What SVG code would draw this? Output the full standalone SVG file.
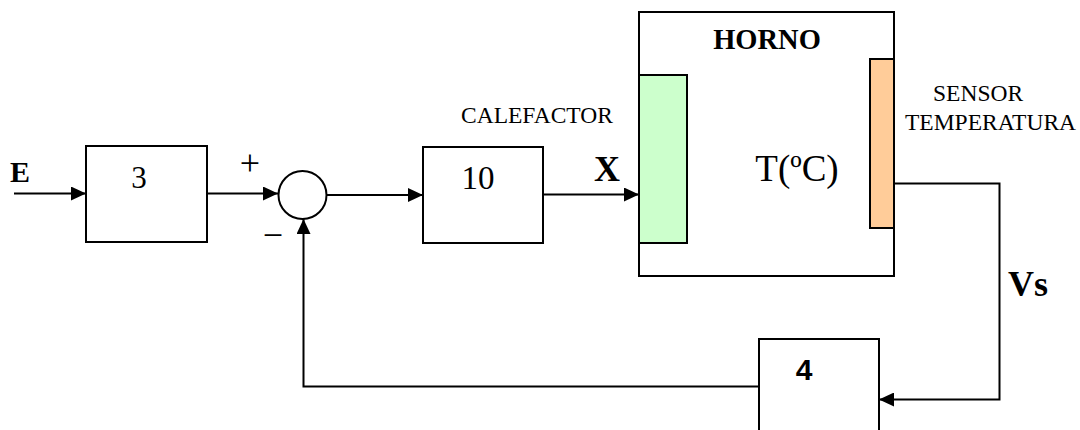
<svg xmlns="http://www.w3.org/2000/svg" width="1080" height="430" viewBox="0 0 1080 430">
<style>
.box{fill:#fff;stroke:#000;stroke-width:2}
.ln{fill:none;stroke:#000;stroke-width:2}
.ser{font-family:"Liberation Serif","Times New Roman",serif;fill:#000}
.sans{font-family:"Liberation Sans",Arial,sans-serif;fill:#000}
</style>
<defs>
<marker id="ah" markerUnits="userSpaceOnUse" markerWidth="15" markerHeight="14" refX="15" refY="7" orient="auto">
<path d="M0,0 L15,7 L0,14 z" fill="#000"/>
</marker>
</defs>
<rect width="1080" height="430" fill="#fff"/>

<g id="connectors">
<line class="ln" x1="14" y1="193.5" x2="86" y2="193.5" marker-end="url(#ah)"/>
<line class="ln" x1="207" y1="193.5" x2="278" y2="193.5" marker-end="url(#ah)"/>
<line class="ln" x1="326" y1="195" x2="423" y2="195" marker-end="url(#ah)"/>
<line class="ln" x1="543" y1="194.5" x2="639" y2="194.5" marker-end="url(#ah)"/>
<polyline class="ln" points="894,183.5 999.5,183.5 999.5,399.5 879,399.5" marker-end="url(#ah)"/>
<polyline class="ln" points="759,386.5 303.5,386.5 303.5,219" marker-end="url(#ah)"/>
</g>

<g id="input-E">
<text class="ser" x="10" y="182" font-size="30" font-weight="bold">E</text>
</g>

<g id="block-3">
<rect class="box" x="86" y="146" width="121" height="96"/>
<text class="ser" x="139" y="188" font-size="31" text-anchor="middle">3</text>
</g>

<g id="sum">
<circle cx="302.5" cy="195" r="24" fill="#fff" stroke="#000" stroke-width="2"/>
<text class="ser" x="250" y="175" font-size="36" text-anchor="middle">+</text>
<text class="ser" x="273" y="247" font-size="36" text-anchor="middle">−</text>
</g>

<g id="block-10">
<rect class="box" x="423" y="147" width="120" height="96"/>
<text class="ser" x="478" y="189" font-size="33" text-anchor="middle">10</text>
</g>

<g id="label-calefactor">
<text class="ser" x="461" y="123" font-size="23.5">CALEFACTOR</text>
<text class="ser" x="594" y="181" font-size="36" font-weight="bold">X</text>
</g>

<g id="horno">
<rect class="box" x="639" y="12" width="255" height="264"/>
<text class="ser" x="767" y="49" font-size="28.5" font-weight="bold" text-anchor="middle">HORNO</text>
<rect x="639" y="75" width="48" height="168" fill="#CCFFCC" stroke="#000" stroke-width="2"/>
<rect x="870" y="59" width="24" height="169" fill="#FFCC99" stroke="#000" stroke-width="2"/>
<text class="ser" x="797" y="181" font-size="37" text-anchor="middle">T(ºC)</text>
</g>

<g id="label-sensor">
<text class="ser" x="933" y="101" font-size="23.5">SENSOR</text>
<text class="ser" x="905" y="130" font-size="23.5">TEMPERATURA</text>
</g>

<g id="label-Vs">
<text class="ser" x="1008" y="296" font-size="36" font-weight="bold">Vs</text>
</g>

<g id="block-4">
<rect class="box" x="759" y="339" width="120" height="100"/>
<text class="sans" x="804" y="380" font-size="30" font-weight="bold" text-anchor="middle">4</text>
</g>
</svg>
